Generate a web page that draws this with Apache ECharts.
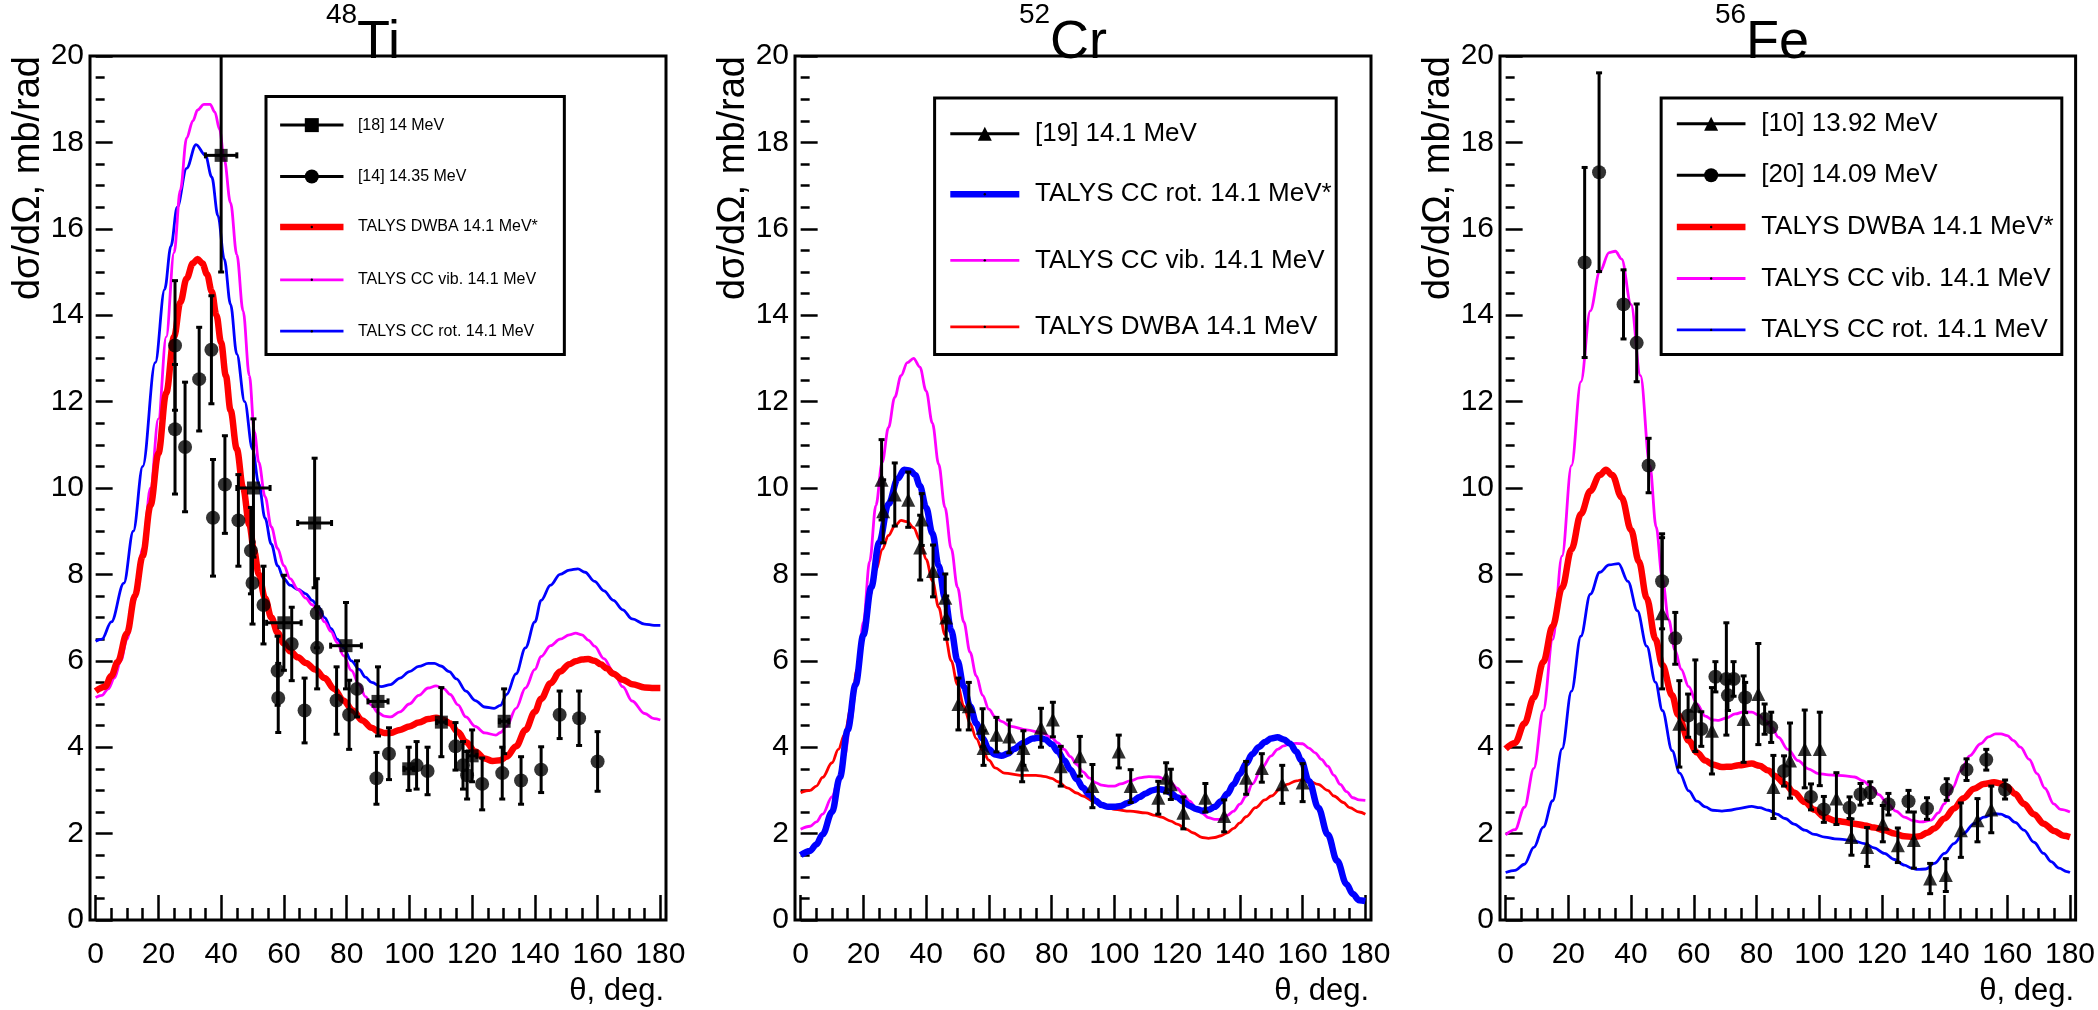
<!DOCTYPE html>
<html>
<head>
<meta charset="utf-8">
<script src="https://cdn.jsdelivr.net/npm/echarts@6/dist/echarts.min.js"></script>
<style>
  html, body { margin: 0; padding: 0; background: #fff; }
  #chart { width: 2098px; height: 1010px; }
</style>
</head>
<body>
<div id="chart"></div>
<script>
// ---------- axis ticks ----------
const X_MAJOR = [0, 20, 40, 60, 80, 100, 120, 140, 160, 180];
const X_MINOR = [5, 10, 15, 25, 30, 35, 45, 50, 55, 65, 70, 75, 85, 90, 95, 105, 110, 115, 125, 130, 135, 145, 150, 155, 165, 170, 175];

// ---------- 48Ti ----------
const TI_DWBA = [[0,5.3],[3,5.4],[5,5.65],[7,5.97],[10,6.64],[12.5,7.5],[15,8.43],[17.5,9.6],[20,10.8],[22.5,12.2],[25,13.5],[27,14.3],[29,14.85],[31,15.2],[32.5,15.3],[34,15.2],[35.5,14.95],[37,14.55],[38.5,14.0],[40,13.36],[41.5,12.6],[43,11.8],[45,10.9],[47,10.0],[49,9.15],[50.5,8.55],[52,8.0],[54,7.45],[56,7.0],[58,6.65],[60,6.4],[62,6.22],[64.5,6.08],[67,5.95],[70,5.8],[73,5.6],[76,5.35],[79,5.08],[82,4.85],[85,4.62],[88,4.45],[90,4.37],[92,4.33],[94,4.33],[97,4.4],[100,4.48],[103,4.57],[106,4.65],[108.5,4.68],[111,4.63],[113,4.55],[115.5,4.35],[118,4.12],[121,3.9],[124,3.74],[126.5,3.68],[129,3.7],[131,3.78],[134,4.02],[137,4.4],[140,4.82],[142,5.12],[145,5.48],[148,5.75],[151,5.92],[153,5.99],[155,6.03],[157,6.04],[159,6.0],[161,5.92],[163,5.82],[165,5.7],[168,5.56],[171,5.46],[175,5.38],[178,5.37],[180,5.37]];
const TI_VIB = [[0,5.15],[2,5.2],[4,5.35],[6,5.6],[8,6.0],[10,6.5],[12.5,7.4],[15,8.6],[17.5,10.0],[20,11.6],[22.5,13.5],[25,15.45],[27,16.9],[29,18.1],[31,18.5],[32.5,18.75],[34.5,18.88],[36.5,18.88],[38,18.7],[39.5,18.3],[41,17.6],[43,16.6],[45,15.4],[47,14.1],[49,12.6],[50.6,11.3],[52,10.6],[54,9.8],[56,9.1],[58,8.6],[60,8.2],[62,7.9],[64.5,7.65],[67,7.45],[69,7.3],[71,7.12],[73,6.9],[75,6.68],[77,6.42],[79,6.12],[81.5,5.78],[84,5.45],[86,5.17],[88,4.97],[90,4.8],[92,4.72],[94,4.7],[97,4.82],[100,5.0],[103,5.2],[106,5.37],[108.5,5.42],[111,5.35],[113,5.22],[115.5,4.98],[118,4.7],[121,4.48],[124,4.33],[127.6,4.28],[129,4.34],[131,4.48],[134,4.9],[137,5.37],[140,5.8],[142,6.1],[145,6.35],[148,6.5],[151,6.6],[153,6.64],[155,6.6],[157,6.48],[159,6.34],[162,6.05],[165,5.75],[168,5.4],[171,5.07],[175,4.78],[178,4.66],[180,4.63]];
const TI_ROT = [[0,6.45],[2,6.5],[5,6.9],[9,7.8],[12,9.0],[15,10.5],[19,12.9],[22,14.6],[24,15.6],[26,16.5],[29,17.4],[32,17.95],[35,17.7],[37,17.2],[39,16.3],[41,15.3],[43,14.25],[45,13.1],[47.5,12.0],[50,10.9],[52,10.1],[54,9.3],[56,8.7],[58,8.2],[60,7.9],[62,7.75],[64.5,7.65],[67,7.55],[69,7.4],[71,7.25],[73,7.0],[75,6.75],[77,6.5],[79,6.3],[81.5,6.0],[84,5.8],[86,5.62],[88,5.5],[91,5.4],[94,5.45],[97,5.6],[100,5.75],[103,5.87],[106,5.94],[108,5.94],[110,5.88],[112.7,5.75],[115,5.58],[118,5.3],[121,5.08],[124,4.93],[127,4.9],[129,4.97],[131,5.22],[134,5.7],[137,6.3],[140,6.9],[142,7.4],[145,7.75],[148,8.0],[151,8.1],[153.7,8.13],[156,8.05],[159,7.84],[162,7.62],[165,7.4],[168,7.18],[171,6.97],[175,6.85],[178,6.82],[180,6.82]];
// [theta, value, y error, theta error]
const TI_REF18 = [[40,17.7,2.7,5],[50.3,10.0,1.6,5.3],[60,6.88,1.1,5.5],[69.8,9.19,1.5,5.4],[79.8,6.35,1.0,4.9],[90,5.06,0.8,3.2],[99.8,3.5,0.5,1.5],[110.2,4.58,0.8,1.5],[120,3.8,0.6,1.5],[130.2,4.6,0.75,1.5]];
// [theta, value, y error]
const TI_REF14 = [[25.3,13.3,1.5],[25.3,11.36,1.5],[28.5,10.95,1.5],[33.0,12.52,1.2],[36.9,13.2,1.25],[37.4,9.31,1.35],[41.2,10.08,1.13],[45.5,9.25,1.06],[49.5,8.55,1.0],[50.0,7.8,0.95],[53.5,7.29,0.9],[58.0,5.77,0.8],[58.2,5.14,0.8],[62.5,6.39,0.85],[66.6,4.85,0.75],[70.6,6.3,0.95],[70.5,7.1,0.8],[76.8,5.08,0.78],[80.8,4.75,0.8],[83.3,5.35,0.65],[89.5,3.28,0.6],[93.5,3.85,0.6],[102.3,3.58,0.55],[105.8,3.45,0.55],[114.7,4.02,0.55],[117.1,3.58,0.55],[118.4,3.35,0.55],[123.2,3.15,0.6],[129.6,3.4,0.6],[135.6,3.23,0.55],[142,3.48,0.53],[147.9,4.75,0.55],[154.1,4.67,0.63],[160,3.67,0.69]];

// ---------- 52Cr ----------
const CR_ROT = [[0,1.5],[3,1.6],[5,1.75],[7,1.98],[10,2.5],[12.5,3.3],[15,4.4],[17.5,5.45],[20,6.6],[22.5,7.7],[25,8.73],[28,9.63],[31,10.22],[33,10.42],[35,10.4],[36.5,10.3],[38,10.05],[40,9.55],[42,8.95],[44,8.2],[46,7.45],[48,6.7],[50,6.0],[52,5.4],[54,4.95],[56,4.55],[58,4.2],[60,3.95],[62,3.83],[64,3.8],[66,3.85],[68,3.96],[71,4.1],[74,4.2],[76,4.22],[78,4.18],[80,4.07],[82,3.9],[84,3.7],[86,3.48],[88,3.26],[90,3.06],[92,2.9],[94,2.76],[96,2.66],[98,2.62],[100,2.62],[102,2.64],[104,2.7],[106,2.76],[108,2.85],[110,2.93],[112,3.0],[114,3.03],[116,3.01],[118,2.94],[120,2.84],[122,2.74],[124,2.64],[126,2.57],[128,2.53],[130,2.55],[132,2.62],[134,2.75],[136,2.92],[138,3.14],[140,3.38],[142,3.62],[144,3.84],[146,4.0],[148,4.12],[150,4.2],[152,4.23],[154,4.18],[156,4.08],[158,3.9],[159.5,3.7],[162,3.22],[165,2.6],[168,1.98],[171,1.37],[174,0.83],[176,0.6],[178,0.46],[180,0.44]];
const CR_VIB = [[0,2.1],[3,2.17],[5,2.27],[7,2.45],[10,2.85],[12,3.25],[14,3.8],[16,4.6],[18,5.6],[20,6.9],[22,8.3],[24,9.6],[26,10.6],[28,11.4],[30,12.1],[32,12.6],[34,12.9],[36,13.0],[38,12.8],[40,12.25],[42,11.5],[44,10.55],[46,9.55],[48,8.6],[50,7.7],[52,6.9],[54,6.2],[56,5.65],[58,5.2],[60,4.88],[62,4.7],[64,4.6],[67,4.48],[72,4.4],[77,4.33],[80,4.22],[82,4.1],[84,3.95],[86,3.78],[88,3.6],[90,3.43],[92,3.29],[94,3.18],[96,3.12],[98,3.1],[100,3.1],[102,3.15],[105,3.22],[108,3.29],[111,3.32],[114,3.31],[116,3.26],[118,3.18],[120,3.05],[122,2.9],[124,2.75],[126,2.6],[128,2.47],[130,2.37],[132,2.33],[134,2.33],[136,2.42],[138,2.52],[140,2.68],[142,2.87],[144,3.15],[147,3.52],[150,3.8],[152,3.95],[154,4.03],[156,4.08],[158,4.09],[160,4.08],[162,3.98],[164,3.87],[166,3.72],[168,3.56],[170,3.35],[172,3.14],[174,2.97],[176,2.83],[178,2.78],[180,2.77]];
const CR_DWBA = [[0,2.95],[3,3.0],[5,3.1],[7,3.3],[10,3.64],[12,3.95],[14,4.29],[16,4.9],[18,5.8],[20,6.7],[22,7.5],[24,8.1],[26,8.58],[28,8.9],[30,9.12],[32,9.25],[34,9.22],[36,9.08],[38,8.8],[40,8.35],[42,7.85],[44,7.24],[46,6.6],[48,6.0],[50,5.45],[52,4.95],[54,4.55],[56,4.2],[58,3.92],[60,3.7],[62,3.52],[65,3.4],[70,3.35],[75,3.35],[78,3.32],[80,3.28],[82,3.2],[85,3.06],[88,2.94],[90,2.87],[93,2.76],[95,2.68],[98,2.6],[100,2.56],[105,2.52],[110,2.48],[113,2.42],[115,2.38],[118,2.29],[120,2.22],[123,2.1],[125,2.02],[128,1.91],[130,1.89],[132,1.91],[134,1.95],[136,2.02],[138,2.12],[140,2.25],[142,2.39],[145,2.6],[148,2.78],[150,2.87],[153,3.04],[155,3.14],[158,3.22],[160,3.25],[162,3.22],[165,3.14],[168,3.0],[170,2.87],[173,2.72],[175,2.6],[178,2.5],[180,2.45]];
const CR_REF19 = [[25.8,10.19,0.93],[26.3,9.46,0.73],[30,9.85,0.73],[34.3,9.73,0.64],[38.6,9.27,0.6],[38.1,8.62,0.75],[42.2,8.08,0.6],[46.1,7.46,0.55],[46.4,7.0,0.5],[50.3,5.0,0.6],[53.6,4.95,0.55],[58,4.45,0.44],[58.3,3.98,0.4],[62.4,4.29,0.4],[66.5,4.25,0.38],[70.6,3.6,0.4],[71,3.98,0.4],[76.6,4.45,0.45],[80.4,4.64,0.4],[82.9,3.56,0.46],[89,3.79,0.46],[93,3.1,0.5],[101.4,3.9,0.38],[105.2,3.1,0.38],[114,2.83,0.38],[116.5,3.29,0.35],[118,3.14,0.35],[122,2.48,0.37],[129,2.83,0.33],[135,2.41,0.37],[142,3.29,0.38],[147,3.52,0.33],[153.5,3.14,0.44],[160,3.18,0.44]];

// ---------- 56Fe ----------
const FE_DWBA = [[0,3.96],[3,4.1],[6,4.55],[9,5.15],[12,5.97],[15,6.8],[18,7.69],[21,8.58],[24,9.4],[27,9.93],[30,10.3],[32,10.42],[34,10.3],[37,9.78],[40,9.03],[42.5,8.3],[45,7.45],[47.8,6.5],[50,5.9],[53.1,5.2],[55,4.75],[58.4,4.15],[61,3.88],[63.7,3.69],[66,3.6],[69,3.54],[72,3.55],[74.3,3.58],[78.5,3.62],[81,3.57],[83.8,3.46],[86,3.33],[89.1,3.15],[92,2.95],[95.4,2.73],[98.5,2.55],[101.8,2.38],[105,2.3],[108.1,2.27],[111,2.23],[114.5,2.19],[117.5,2.14],[120.8,2.08],[124,2.0],[127.2,1.94],[130,1.92],[132,1.94],[134.5,2.02],[136.7,2.12],[140,2.35],[143,2.58],[146,2.82],[149.4,3.04],[152.5,3.15],[155.8,3.19],[158,3.16],[160,3.08],[162.5,2.92],[165.3,2.69],[168.5,2.45],[171.6,2.23],[175,2.06],[178,1.95],[180,1.92]];
const FE_VIB = [[0,1.97],[3,2.09],[6,2.61],[9,3.51],[12,4.85],[15,6.49],[18,8.43],[21,10.52],[24,12.46],[27,14.1],[30,15.0],[33,15.45],[35,15.48],[37,15.3],[40,14.25],[43,12.6],[46,10.52],[48,9.1],[50,7.9],[52,6.95],[54,6.25],[56,5.8],[58.4,5.4],[61,5.0],[63.7,4.72],[66,4.63],[68,4.62],[70.5,4.68],[73.2,4.77],[76,4.82],[78.5,4.81],[81,4.73],[82.8,4.62],[85,4.45],[87,4.23],[90,3.95],[93.3,3.69],[96.5,3.5],[99.7,3.39],[103,3.36],[106,3.35],[109,3.33],[111.3,3.31],[114,3.22],[116.6,3.08],[119,2.9],[121.9,2.69],[124.5,2.52],[127.2,2.38],[130,2.3],[132.5,2.27],[135.7,2.31],[138,2.48],[139.9,2.69],[142.5,3.05],[145.2,3.46],[148,3.8],[151.5,4.08],[154,4.24],[156.3,4.31],[158,4.31],[160,4.27],[162,4.15],[164.2,4.0],[167,3.72],[169.5,3.39],[172,3.05],[174.8,2.69],[177,2.56],[180,2.5]];
const FE_ROT = [[0,1.1],[3,1.15],[6,1.29],[9,1.68],[12,2.15],[15,2.76],[18,3.96],[21,5.3],[24,6.57],[27,7.54],[30,8.05],[33,8.22],[36,8.25],[39,7.84],[42,7.16],[45,6.34],[47.8,5.5],[50,4.85],[53.1,3.92],[55.5,3.4],[58.4,2.99],[61,2.75],[63.7,2.62],[66,2.54],[69,2.52],[71.5,2.54],[74.3,2.58],[78.5,2.63],[81,2.6],[83.8,2.54],[86.5,2.45],[89.1,2.35],[92,2.22],[95.4,2.08],[98.5,1.98],[101.8,1.92],[105,1.88],[108.1,1.86],[111,1.83],[114.5,1.77],[117.5,1.67],[120.8,1.54],[124,1.4],[127.2,1.27],[129.5,1.2],[131.4,1.17],[134,1.18],[136.7,1.31],[140,1.54],[143,1.77],[146,2.0],[149.4,2.23],[152.5,2.38],[155.8,2.46],[158,2.45],[160,2.39],[162.5,2.26],[165.3,2.08],[168.5,1.8],[171.6,1.54],[174,1.35],[176.5,1.2],[179,1.12],[180,1.1]];
const FE_REF10 = [[49.9,7.1,1.75],[55.4,4.54,1.0],[60.5,4.96,1.06],[65.8,4.38,1.0],[75.9,4.65,1.0],[80.6,5.23,1.17],[85.4,3.08,0.73],[90.7,3.69,0.87],[95.4,3.96,0.9],[100.2,3.96,0.85],[105.5,2.81,0.6],[110.3,1.92,0.42],[115.3,1.69,0.45],[120.3,2.23,0.42],[125.1,1.73,0.4],[130.2,1.85,0.65],[135.4,0.96,0.35],[140.4,1.04,0.38],[145.2,2.08,0.63],[150.5,2.31,0.5],[154.9,2.56,0.54]];
const FE_REF20 = [[25.2,15.22,2.2],[29.8,17.31,2.3],[37.6,14.25,0.8],[41.8,13.36,0.9],[45.6,10.52,0.63],[49.9,7.84,1.1],[54.1,6.52,0.6],[58.2,4.73,0.5],[62.4,4.42,0.4],[66.9,5.63,0.35],[70.4,5.58,1.3],[70.9,5.2,0.35],[72.7,5.58,0.4],[76.4,5.15,0.35],[82.6,4.65,0.35],[84.7,4.46,0.35],[88.8,3.45,0.35],[97.4,2.85,0.3],[101.5,2.56,0.3],[109.7,2.6,0.25],[113.2,2.91,0.25],[116.3,2.95,0.25],[122.1,2.68,0.25],[128.5,2.75,0.25],[134.4,2.58,0.25],[140.7,3.02,0.25],[147,3.48,0.25],[153.3,3.71,0.24],[159.3,3.02,0.22]];

// ---------- styling / layout ----------
const FONT = '"Liberation Sans", Helvetica, Arial, sans-serif';
const RED = '#ff0000', MAG = '#ff00ff', BLUE = '#0000ff', BLACK = '#000000';
const THICK = 6.5, THIN = 2.8;
const BAR_W = 3;
const GRID_LEFT = [90, 795, 1500];
const GRID_TOP = 56, GRID_W = 576, GRID_H = 864;
const PAD_CENTER = [350, 1049, 1748];
const X_MIN = -1.8, X_MAX = 181.8;

const PANELS = [
  {
    mass: '48', element: 'Ti', elementEm: 0.833,
    curves: [
      { name: 'TALYS CC rot. 14.1 MeV', data: TI_ROT, color: BLUE, width: THIN },
      { name: 'TALYS CC vib. 14.1 MeV', data: TI_VIB, color: MAG, width: THIN },
      { name: 'TALYS DWBA 14.1 MeV*', data: TI_DWBA, color: RED, width: THICK }
    ],
    points: [
      { name: '[18] 14 MeV', data: TI_REF18, symbol: 'rect', size: 13, xerr: true },
      { name: '[14] 14.35 MeV', data: TI_REF14, symbol: 'circle', size: 14 }
    ],
    legend: {
      box: [54.3, 149.4, 19.06, 13.09], lineX: [58.8, 79], textX: 83.6, font: 16,
      rows: [18.4, 17.21, 16.04, 14.82, 13.63],
      items: [
        { label: '[18] 14 MeV', marker: 'rect' },
        { label: '[14] 14.35 MeV', marker: 'circle' },
        { label: 'TALYS DWBA 14.1 MeV*', color: RED, width: THICK },
        { label: 'TALYS CC vib. 14.1 MeV', color: MAG, width: THIN },
        { label: 'TALYS CC rot. 14.1 MeV', color: BLUE, width: THIN }
      ]
    }
  },
  {
    mass: '52', element: 'Cr', elementEm: 1.055,
    curves: [
      { name: 'TALYS DWBA 14.1 MeV', data: CR_DWBA, color: RED, width: THIN },
      { name: 'TALYS CC vib. 14.1 MeV', data: CR_VIB, color: MAG, width: THIN },
      { name: 'TALYS CC rot. 14.1 MeV*', data: CR_ROT, color: BLUE, width: THICK }
    ],
    points: [
      { name: '[19] 14.1 MeV', data: CR_REF19, symbol: 'triangle', size: 14 }
    ],
    legend: {
      box: [42.7, 170.7, 19.03, 13.09], lineX: [47.7, 69.7], textX: 74.7, font: 26,
      rows: [18.2, 16.8, 15.27, 13.73],
      items: [
        { label: '[19] 14.1 MeV', marker: 'triangle' },
        { label: 'TALYS CC rot. 14.1 MeV*', color: BLUE, width: THICK },
        { label: 'TALYS CC vib. 14.1 MeV', color: MAG, width: THIN },
        { label: 'TALYS DWBA 14.1 MeV', color: RED, width: THIN }
      ]
    }
  },
  {
    mass: '56', element: 'Fe', elementEm: 1.167,
    curves: [
      { name: 'TALYS CC rot. 14.1 MeV', data: FE_ROT, color: BLUE, width: THIN },
      { name: 'TALYS CC vib. 14.1 MeV', data: FE_VIB, color: MAG, width: THIN },
      { name: 'TALYS DWBA 14.1 MeV*', data: FE_DWBA, color: RED, width: THICK }
    ],
    points: [
      { name: '[10] 13.92 MeV', data: FE_REF10, symbol: 'triangle', size: 14 },
      { name: '[20] 14.09 MeV', data: FE_REF20, symbol: 'circle', size: 14 }
    ],
    legend: {
      box: [49.6, 177.4, 19.03, 13.09], lineX: [54.6, 76.5], textX: 81.5, font: 26,
      rows: [18.43, 17.24, 16.04, 14.85, 13.66],
      items: [
        { label: '[10] 13.92 MeV', marker: 'triangle' },
        { label: '[20] 14.09 MeV', marker: 'circle' },
        { label: 'TALYS DWBA 14.1 MeV*', color: RED, width: THICK },
        { label: 'TALYS CC vib. 14.1 MeV', color: MAG, width: THIN },
        { label: 'TALYS CC rot. 14.1 MeV', color: BLUE, width: THIN }
      ]
    }
  }
];

// ---------- option ----------
const grids = [], xAxes = [], yAxes = [], series = [];

PANELS.forEach((p, i) => {
  grids.push({
    left: GRID_LEFT[i], top: GRID_TOP, width: GRID_W, height: GRID_H,
    show: true, borderColor: BLACK, borderWidth: 3, backgroundColor: 'transparent'
  });
  // labelled axis with long ticks every 20 deg
  xAxes.push({
    gridIndex: i, type: 'value', position: 'bottom', min: X_MIN, max: X_MAX,
    axisLine: { show: false }, splitLine: { show: false },
    axisTick: { show: true, inside: true, length: 25, customValues: X_MAJOR, lineStyle: { color: BLACK, width: 2.5 } },
    axisLabel: { customValues: X_MAJOR, fontSize: 30, fontFamily: FONT, color: BLACK, margin: 20 }
  });
  // companion axis carrying the short 5-deg ticks
  xAxes.push({
    gridIndex: i, type: 'value', position: 'bottom', min: X_MIN, max: X_MAX,
    axisLine: { show: false }, splitLine: { show: false },
    axisTick: { show: true, inside: true, length: 12, customValues: X_MINOR, lineStyle: { color: BLACK, width: 2.5 } },
    axisLabel: { show: false }
  });
  yAxes.push({
    gridIndex: i, type: 'value', min: 0, max: 20, interval: 2,
    axisLine: { show: false }, splitLine: { show: false },
    axisTick: { show: true, inside: true, length: 17, lineStyle: { color: BLACK, width: 2.5 } },
    minorTick: { show: true, splitNumber: 4, length: 9, lineStyle: { color: BLACK, width: 2.5 } },
    axisLabel: { fontSize: 30, fontFamily: FONT, color: BLACK, margin: 6 }
  });

  p.curves.forEach(c => {
    series.push({
      type: 'line', name: c.name, xAxisIndex: 2 * i, yAxisIndex: i,
      data: c.data, smooth: 0.35, smoothMonotone: 'x', symbol: 'none',
      lineStyle: { color: c.color, width: c.width }, clip: true, silent: true,
      z: c.width === THICK ? 4 : 3
    });
  });

  p.points.forEach(s => {
    const hasX = !!s.xerr;
    series.push({
      type: 'custom', name: s.name + ' errors', xAxisIndex: 2 * i, yAxisIndex: i,
      data: s.data, clip: true, silent: true, z: 5,
      encode: { x: 0, y: 1 },
      renderItem: (params, api) => {
        const x = api.value(0), y = api.value(1), ey = api.value(2);
        const c = api.coord([x, y]);
        const hi = api.coord([x, y + ey]);
        const lo = api.coord([x, y - ey]);
        const st = { stroke: BLACK, lineWidth: BAR_W };
        const cap = 3;
        const kids = [
          { type: 'line', shape: { x1: c[0], y1: hi[1], x2: c[0], y2: lo[1] }, style: st },
          { type: 'line', shape: { x1: c[0] - cap, y1: hi[1], x2: c[0] + cap, y2: hi[1] }, style: st },
          { type: 'line', shape: { x1: c[0] - cap, y1: lo[1], x2: c[0] + cap, y2: lo[1] }, style: st }
        ];
        if (hasX) {
          const ex = api.value(3);
          const l = api.coord([x - ex, y]), r = api.coord([x + ex, y]);
          kids.push(
            { type: 'line', shape: { x1: l[0], y1: c[1], x2: r[0], y2: c[1] }, style: st },
            { type: 'line', shape: { x1: l[0], y1: c[1] - cap, x2: l[0], y2: c[1] + cap }, style: st },
            { type: 'line', shape: { x1: r[0], y1: c[1] - cap, x2: r[0], y2: c[1] + cap }, style: st }
          );
        }
        return { type: 'group', children: kids };
      }
    });
    series.push({
      type: 'scatter', name: s.name, xAxisIndex: 2 * i, yAxisIndex: i,
      data: s.data.map(d => [d[0], d[1]]),
      symbol: s.symbol, symbolSize: s.size,
      itemStyle: { color: BLACK }, z: 6, silent: true
    });
  });
});

const chart = echarts.init(document.getElementById('chart'), null, { renderer: 'canvas' });
chart.setOption({
  animation: false,
  backgroundColor: '#ffffff',
  grid: grids, xAxis: xAxes, yAxis: yAxes, series: series
});

// ---------- titles, axis names and legend boxes ----------
function markerShape(kind, cx, cy, size) {
  if (kind === 'circle') return { type: 'circle', shape: { cx, cy, r: size / 2 }, style: { fill: BLACK }, z: 101 };
  if (kind === 'rect') return { type: 'rect', shape: { x: cx - size / 2, y: cy - size / 2, width: size, height: size }, style: { fill: BLACK }, z: 101 };
  return { type: 'polygon', shape: { points: [[cx, cy - size / 2], [cx + size / 2, cy + size / 2], [cx - size / 2, cy + size / 2]] }, style: { fill: BLACK }, z: 101 };
}

const TITLE_MAIN = 54, TITLE_SUP = 28;
const graphics = [];
PANELS.forEach((p, i) => {
  const toPx = (x, y) => chart.convertToPixel({ gridIndex: i }, [x, y]);

  // nucleus title: mass number as superscript followed by the element symbol
  const supW = 1.112 * TITLE_SUP;
  const mainW = p.elementEm * TITLE_MAIN;
  const x0 = PAD_CENTER[i] + 14 - (supW + mainW) / 2;
  graphics.push({ type: 'text', z: 50, style: { text: p.mass, x: x0, y: 1, font: `${TITLE_SUP}px ${FONT}`, fill: BLACK, align: 'left', verticalAlign: 'top' } });
  graphics.push({ type: 'text', z: 50, style: { text: p.element, x: x0 + supW, y: 70, font: `${TITLE_MAIN}px ${FONT}`, fill: BLACK, align: 'left', verticalAlign: 'bottom' } });

  // axis names
  graphics.push({ type: 'text', x: GRID_LEFT[i] - 61, y: GRID_TOP, rotation: Math.PI / 2, z: 50,
    style: { text: 'dσ/dΩ, mb/rad', font: `38px ${FONT}`, fill: BLACK, align: 'right', verticalAlign: 'middle' } });
  graphics.push({ type: 'text', z: 50,
    style: { text: 'θ, deg.', x: GRID_LEFT[i] + GRID_W - 2, y: 991, font: `31px ${FONT}`, fill: BLACK, align: 'right', verticalAlign: 'middle' } });

  // legend box
  const L = p.legend;
  const tl = toPx(L.box[0], L.box[2]);
  const br = toPx(L.box[1], L.box[3]);
  graphics.push({ type: 'rect', z: 100, shape: { x: tl[0], y: tl[1], width: br[0] - tl[0], height: br[1] - tl[1] },
    style: { fill: '#ffffff', stroke: BLACK, lineWidth: 3 } });
  L.items.forEach((it, k) => {
    const a = toPx(L.lineX[0], L.rows[k]);
    const b = toPx(L.lineX[1], L.rows[k]);
    const t = toPx(L.textX, L.rows[k]);
    const mx = (a[0] + b[0]) / 2;
    if (it.marker) {
      graphics.push({ type: 'line', z: 101, shape: { x1: a[0], y1: a[1], x2: b[0], y2: b[1] }, style: { stroke: BLACK, lineWidth: BAR_W } });
      graphics.push(markerShape(it.marker, mx, a[1], 14));
    } else {
      graphics.push({ type: 'line', z: 101, shape: { x1: a[0], y1: a[1], x2: b[0], y2: b[1] }, style: { stroke: it.color, lineWidth: it.width } });
      graphics.push({ type: 'circle', z: 102, shape: { cx: mx, cy: a[1], r: 1.2 }, style: { fill: BLACK } });
    }
    graphics.push({ type: 'text', z: 101, style: { text: it.label, x: t[0], y: t[1], font: `${L.font}px ${FONT}`, fill: BLACK, align: 'left', verticalAlign: 'middle' } });
  });
});
chart.setOption({ graphic: graphics });
</script>
</body>
</html>
